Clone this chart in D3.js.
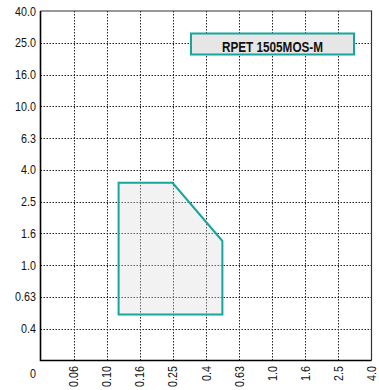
<!DOCTYPE html>
<html>
<head>
<meta charset="utf-8">
<script src="https://cdn.jsdelivr.net/npm/d3@7"></script>
<style>
  body { margin: 0; background: #fff; }
  svg text { font-family: "Liberation Sans", Arial, sans-serif; }
</style>
</head>
<body>
<div id="chart"></div>
<script>
// tick labels
const xLabels = ["0", "0.06", "0.10", "0.16", "0.25", "0.4", "0.63", "1.0", "1.6", "2.5", "4.0"];
const yLabels = ["0", "0.4", "0.63", "1.0", "1.6", "2.5", "4.0", "6.3", "10.0", "16.0", "25.0", "40.0"];

// working area outline (x value, y value)
const areaX = [0.118, 0.118, 0.25, 0.5, 0.5];
const areaY = [0.49, 3.3, 3.3, 1.42, 0.49];

const modelName = "RPET 1505MOS-M";

const width = 379, height = 390;
const padL = 40.5, padR = 371.5, padT = 11, padB = 360.5;
const squeeze = 0.86; // narrow the glyphs a bit, like the condensed original

const svg = d3.select("#chart").append("svg")
  .attr("width", width)
  .attr("height", height);

// category scales for the evenly spaced ticks
const x = d3.scalePoint().domain(xLabels).range([padL, padR]);
const y = d3.scalePoint().domain(yLabels).range([padB, padT]);

// log scales anchored on two ticks, for the polygon
const xLog = d3.scaleLog().domain([0.1, 1.0]).range([x("0.10"), x("1.0")]);
const yLog = d3.scaleLog().domain([1.0, 10.0]).range([y("1.0"), y("10.0")]);

// grid
const grid = svg.append("g");
grid.selectAll(".gx")
  .data(xLabels.slice(1, -1))
  .enter().append("line")
  .attr("x1", d => Math.round(x(d)) + 0.5)
  .attr("x2", d => Math.round(x(d)) + 0.5)
  .attr("y1", padT)
  .attr("y2", padB)
  .attr("stroke", "#222")
  .attr("stroke-width", 1)
  .attr("stroke-dasharray", "1.5,1.5");
grid.selectAll(".gy")
  .data(yLabels.slice(1, -1))
  .enter().append("line")
  .attr("y1", d => Math.round(y(d)) + 0.5)
  .attr("y2", d => Math.round(y(d)) + 0.5)
  .attr("x1", padL)
  .attr("x2", padR)
  .attr("stroke", "#222")
  .attr("stroke-width", 1)
  .attr("stroke-dasharray", "1.5,1.5");

// top and right frame
svg.append("path")
  .attr("d", `M${padL},${padT}H${padR}V${padB}`)
  .attr("fill", "none")
  .attr("stroke", "#333")
  .attr("stroke-width", 1.2);

// polygon
const pts = areaX.map((v, i) => [xLog(v), yLog(areaY[i])]);
svg.append("path")
  .attr("d", d3.line()(pts) + "Z")
  .attr("fill", "#d9d9d9")
  .attr("fill-opacity", 0.35)
  .attr("stroke", "#17a59c")
  .attr("stroke-width", 2)
  .attr("stroke-linejoin", "miter");

// axes lines
svg.append("path")
  .attr("d", `M${padL},${padT}V${padB}H${padR}`)
  .attr("fill", "none")
  .attr("stroke", "#000")
  .attr("stroke-width", 1.6);

// y tick labels
svg.selectAll(".ylab")
  .data(yLabels)
  .enter().append("text")
  .attr("transform", d => `translate(36,${d === "0" ? 373 : y(d)}) scale(${squeeze},1)`)
  .attr("dy", "0.36em")
  .attr("text-anchor", "end")
  .style("font-size", "12.5px")
  .attr("fill", "#111")
  .text(d => d);

// x tick labels (rotated)
svg.selectAll(".xlab")
  .data(xLabels.slice(1))
  .enter().append("text")
  .attr("transform", d => `translate(${x(d)},366) rotate(-90) scale(${squeeze},1)`)
  .attr("dy", "0.36em")
  .attr("text-anchor", "end")
  .style("font-size", "12.5px")
  .attr("fill", "#111")
  .text(d => d);

// model name box
const bx = x("0.4") - 15, bw = 163;
svg.append("rect")
  .attr("x", bx)
  .attr("y", 33.5)
  .attr("width", bw)
  .attr("height", 21)
  .attr("fill", "#e6e6e6")
  .attr("stroke", "#17a59c")
  .attr("stroke-width", 2);
svg.append("text")
  .attr("x", bx + bw / 2)
  .attr("y", 51.5)
  .attr("text-anchor", "middle")
  .attr("textLength", 101)
  .attr("lengthAdjust", "spacingAndGlyphs")
  .style("font-size", "15px")
  .style("font-weight", "bold")
  .attr("fill", "#111")
  .text(modelName);
</script>
</body>
</html>
